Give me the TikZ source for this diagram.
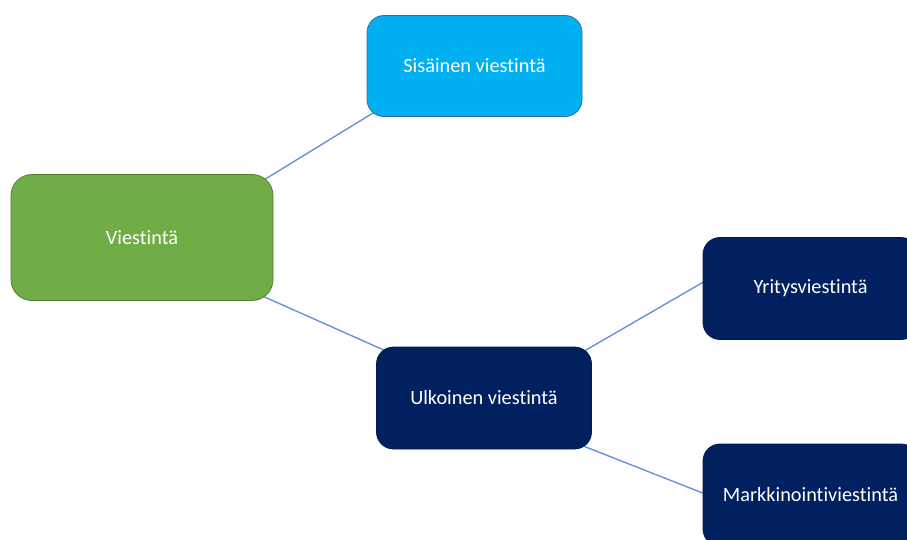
\documentclass[tikz,border=0pt]{standalone}
\usepackage{fontspec}
\setmainfont[Ligatures={NoCommon}]{Carlito}
\usetikzlibrary{calc,backgrounds}
\definecolor{lightblue}{HTML}{00B0F0}
\definecolor{lightblueedge}{HTML}{2F6CA8}
\definecolor{leafgreen}{HTML}{70AD47}
\definecolor{greenedge}{HTML}{507E32}
\definecolor{navy}{HTML}{002060}
\definecolor{navyedge}{HTML}{001A50}
\definecolor{linkblue}{RGB}{104,146,214}
\begin{document}
\begin{tikzpicture}[x=1pt,y=-1pt,
  box/.style={rounded corners=17pt, minimum width=215pt, minimum height=102pt,
    text=white, font=\fontsize{20.3}{24}\selectfont, inner sep=0pt, line width=0.8pt},
  link/.style={draw=linkblue, line width=1.4pt, shorten <=-15pt, shorten >=-15pt}]
\useasboundingbox (0,0) rectangle (907,539);
\clip (0,0) rectangle (907,539);
\node[box, minimum width=262pt, minimum height=126pt, rounded corners=21pt,
  fill=leafgreen, draw=greenedge] (v) at (142,237.5) {Viestintä};
\node[box, minimum height=101pt, fill=lightblue, draw=lightblueedge] (s) at (474.5,66) {Sisäinen viestintä};
\node[box, fill=navy, draw=navyedge] (u) at (484,398) {Ulkoinen viestintä};
\node[box, fill=navy, draw=navyedge] (y) at (810.5,288.5) {Yritysviestintä};
\node[box, fill=navy, draw=navyedge] (m) at (810.5,495) {Markkinointiviestintä};
\coordinate (yin) at ($(y.west)+(0,-6)$);
\coordinate (min) at ($(m.west)+(0,-2)$);
\begin{pgfonlayer}{background}
  \draw[link] (v.north east) -- (s.south west);
  \draw[link] (v.south east) -- (u.north west);
  \draw[link] (u.north east) -- (yin);
  \draw[link] (u.south east) -- (min);
\end{pgfonlayer}
\end{tikzpicture}
\end{document}
